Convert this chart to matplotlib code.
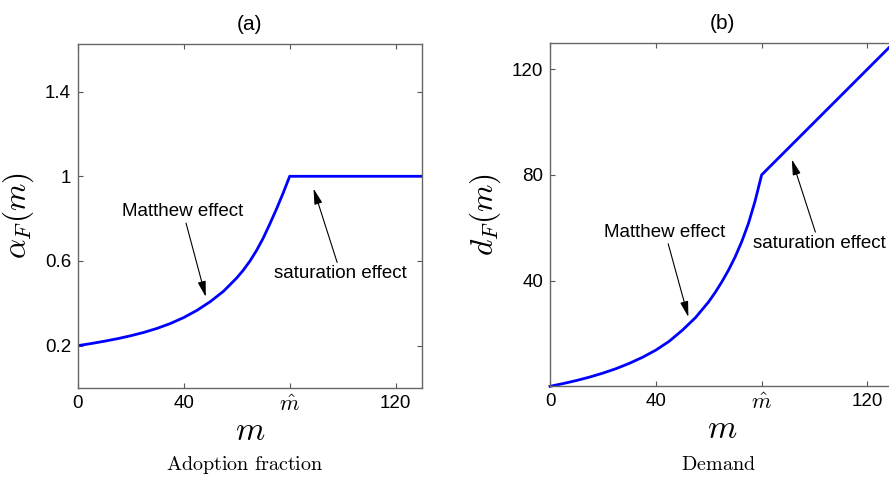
import matplotlib
matplotlib.use('Agg')
import matplotlib.pyplot as plt

plt.rcParams['font.family'] = ['Liberation Sans', 'DejaVu Sans']
plt.rcParams['mathtext.fontset'] = 'cm'

# values
m_alpha = [0, 5, 10, 15, 20, 25, 30, 35, 40, 45, 50, 55, 60, 62.5, 65, 67.5, 70, 72.5, 75,
           77.5, 80, 130]
alpha_F = [0.200, 0.210, 0.221, 0.233, 0.247, 0.263, 0.282, 0.305, 0.333, 0.367, 0.408, 0.457,
           0.520, 0.557, 0.600, 0.650, 0.708, 0.775, 0.845, 0.920, 1.0, 1.0]

m_demand = [0, 5, 10, 15, 20, 25, 30, 35, 40, 45, 50, 55, 60, 62.5, 65, 67.5, 70, 72.5, 75,
            77.5, 80, 130]
d_F = [0, 1.05, 2.2, 3.5, 5.0, 6.7, 8.7, 11.0, 13.7, 17.0, 21.2, 26.0, 32.0, 35.6, 39.6, 44.0,
       49.0, 54.8, 61.6, 70.0, 80.0, 130.0]

x_ticks = [0, 40, 80, 120]
x_ticklabels = ['0', '40', r'$\hat{m}$', '120']
alpha_ticks = [0.2, 0.6, 1, 1.4]
alpha_ticklabels = ['0.2', '0.6', '1', '1.4']
d_ticks = [40, 80, 120]
d_ticklabels = ['40', '80', '120']

fig = plt.figure(figsize=(8.89, 4.78), dpi=100)
ax1 = fig.add_axes([0.0877, 0.1883, 0.387, 0.7197])
ax2 = fig.add_axes([0.6187, 0.1918, 0.3868, 0.7188])

blue = '#0000ff'
arrow = dict(arrowstyle='-|>,head_width=0.18,head_length=0.7', color='black', lw=0.8,
             shrinkA=0, shrinkB=0)

for ax in (ax1, ax2):
    ax.tick_params(direction='in', length=3.6, width=0.8, color='#555555',
                   labelsize=13.5, top=True, right=True, pad=5)
    for s in ax.spines.values():
        s.set_color('#666666')
        s.set_linewidth(1.0)
    ax.set_xlim(0, 130)
    ax.set_xticks(x_ticks)
    ax.set_xticklabels(x_ticklabels)
    ax.get_xticklabels()[2].set_fontsize(16)
    ax.set_xlabel(r'$m$', fontsize=24, labelpad=0)

# (a) adoption fraction
ax1.plot(m_alpha, alpha_F, color=blue, lw=2.0)
ax1.set_ylim(0, 1.625)
ax1.set_yticks(alpha_ticks)
ax1.set_yticklabels(alpha_ticklabels)
ax1.set_ylabel(r'$\alpha_F(m)$', fontsize=22.5, labelpad=6)
ax1.set_title('(a)', fontsize=15, pad=10)
ax1.annotate('Matthew effect', xy=(48.3, 0.43), xytext=(39.7, 0.832),
             ha='center', va='center', fontsize=13.5, arrowprops=arrow)
ax1.annotate('saturation effect', xy=(89.0, 0.942), xytext=(99.3, 0.54),
             ha='center', va='center', fontsize=13.5, arrowprops=arrow)
fig.text(245 / 889, 1 - 465 / 478, r'$\mathrm{Adoption\ fraction}$', ha='center', va='center',
         fontsize=14.5)

# (b) demand
ax2.plot(m_demand, d_F, color=blue, lw=2.0, clip_on=False)
ax2.set_ylim(0, 130)
ax2.set_yticks(d_ticks)
ax2.set_yticklabels(d_ticklabels)
ax2.set_ylabel(r'$d_F(m)$', fontsize=22.5, labelpad=6)
ax2.set_title('(b)', fontsize=15, pad=10)
ax2.annotate('Matthew effect', xy=(52.3, 26.2), xytext=(43.5, 58.2),
             ha='center', va='center', fontsize=13.5, arrowprops=arrow)
ax2.annotate('saturation effect', xy=(91.4, 85.9), xytext=(101.7, 54.1),
             ha='center', va='center', fontsize=13.5, arrowprops=arrow)
fig.text(718 / 889, 1 - 465 / 478, r'$\mathrm{Demand}$', ha='center', va='center',
         fontsize=14.5)

fig.savefig('out.png', dpi=100)
